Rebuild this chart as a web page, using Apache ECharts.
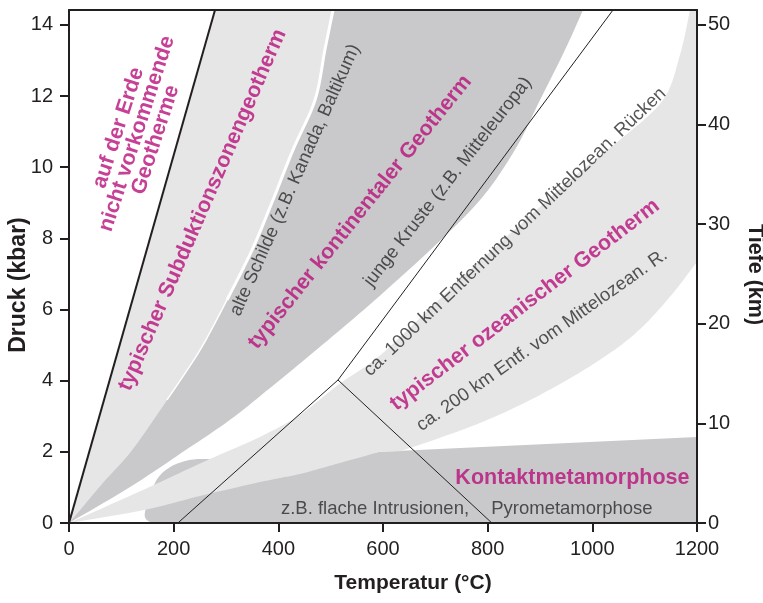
<!DOCTYPE html>
<html><head><meta charset="utf-8">
<script src="https://cdn.jsdelivr.net/npm/echarts@6/dist/echarts.min.js"></script>
<style>html,body{margin:0;padding:0;background:#fff}#c{width:763px;height:603px}</style>
</head><body><div id="c"></div>
<script>
// ---------- axes ----------
const P_MAX = 14.42;      // kbar at the top frame
const DEPTH_MAX = 51.5;   // km at the top frame
const tempTicks = [0, 200, 400, 600, 800, 1000, 1200];
const pressureTicks = [0, 2, 4, 6, 8, 10, 12, 14];
const depthTicks = [0, 10, 20, 30, 40, 50];

// ---------- boundaries [T (°C), P (kbar)] ----------
const limitLine = [[0, 0], [279, 14.42]];
const subductionEdge = [[0, 0], [66, 1.15], [120.4, 2.05], [187.3, 3.46], [250.3, 4.86], [301.9, 6.27],
  [349.7, 7.67], [389.8, 9.08], [428, 10.49], [470.1, 11.89], [489, 13.3], [504.5, 14.42]];
const continentalEdge = [[0, 0], [116.6, 1.01], [217.8, 2.0], [307.6, 2.9], [393.6, 3.91], [483.5, 5.0],
  [584.7, 6.27], [689.8, 7.67], [785.4, 9.08], [852.2, 10.49], [900, 11.89], [947.8, 13.3], [982.2, 14.42]];
const oceanUpperEdge = [[0, 0], [141.4, 0.93], [269.4, 1.8], [365, 2.42], [441.4, 3.04], [514, 3.88],
  [588.5, 4.64], [670.7, 5.76], [766.2, 7.11], [861.8, 8.38], [957.3, 9.64], [1052.9, 10.77],
  [1135, 11.89], [1167.5, 13.16], [1186.6, 14.42]];
const oceanLowerEdge = [[632.5, 2.02], [700, 2.35], [800, 2.9], [900, 3.6], [1000, 4.45],
  [1080, 5.3], [1145, 6.3], [1200, 7.34]];
const shallowLowerEdge = [[0, 0], [145.2, 0.37], [250.3, 0.76], [365, 1.15], [441.4, 1.38], [517.8, 1.69], [594.3, 2.0]];
const contactBump = [[158.6, 0], [147.1, 0.11], [145.2, 0.31], [154.8, 0.79], [170.1, 1.27], [193, 1.57],
  [221.7, 1.74], [250.3, 1.8], [279, 1.77], [307.6, 1.66], [441.4, 1.71]];
const contactTop = [[594.3, 2.0], [1200, 2.42], [1200, 0]];
const ridgeLowerLine = [[208, 0], [514, 4.02], [808, 0]];
const ridgeUpperLine = [[514, 4.02], [1039.5, 14.42]];

// ---------- labels ----------
const labelTexts = ['auf der Erde\nnicht vorkommende\nGeotherme', 'typischer Subduktionszonengeotherm',
  'alte Schilde (z.B. Kanada, Baltikum)', 'typischer kontinentaler Geotherm',
  'junge Kruste (z.B. Mitteleuropa)', 'ca. 1000 km Entfernung vom Mittelozean. Rücken',
  'typischer ozeanischer Geotherm', 'ca. 200 km Entf. vom Mittelozean. R.',
  'Kontaktmetamorphose', 'z.B. flache Intrusionen,', 'Pyrometamorphose'];
const labelPos = [[130, 10.94], [255.1, 8.8], [431.9, 9.64], [556, 8.74], [724, 9.59], [852, 8.18],
  [871, 6.13], [904, 5.14], [962, 1.27], [584.7, 0.39], [961, 0.39]];
const labelAngles = [72, 66.5, 66, 51.3, 52, 43.6, 37.5, 35.2, 0, 0, 0];
const labelKinds = ['em', 'em', 'note', 'em', 'note', 'note', 'em', 'note', 'em', 'note', 'note'];

// ---------- styles ----------
const FONT = '"Liberation Sans", Arial, Helvetica, sans-serif';
const LIGHT = '#e6e6e7', DARK = '#c9c9cb', INK = '#231f20', MAGENTA = '#b8107a';

function catmull(pts, n) {
  n = n || 10;
  if (pts.length < 3) return pts.slice();
  const out = [];
  for (let i = 0; i < pts.length - 1; i++) {
    const p0 = pts[i - 1] || pts[i], p1 = pts[i], p2 = pts[i + 1], p3 = pts[i + 2] || pts[i + 1];
    for (let k = 0; k < n; k++) {
      const t = k / n, t2 = t * t, t3 = t2 * t;
      out.push([0, 1].map(d => 0.5 * ((2 * p1[d]) + (-p0[d] + p2[d]) * t +
        (2 * p0[d] - 5 * p1[d] + 4 * p2[d] - p3[d]) * t2 + (-p0[d] + 3 * p1[d] - 3 * p2[d] + p3[d]) * t3)));
    }
  }
  out.push(pts[pts.length - 1]);
  return out;
}
function build(api, pieces) {
  let pts = [];
  pieces.forEach(pc => {
    let px = pc.pts.map(p => api.coord(p));
    if (pc.smooth) px = catmull(px);
    pts = pts.concat(px);
  });
  return pts;
}
function areaSeries(pieces, fill) {
  return { type: 'custom', silent: true, data: [[0, 0]], clip: true,
    renderItem: (params, api) => ({ type: 'polygon', shape: { points: build(api, pieces) }, style: { fill: fill } }) };
}
function lineSeries(pieces, stroke, width) {
  return { type: 'custom', silent: true, data: [[0, 0]], clip: true,
    renderItem: (params, api) => ({ type: 'polyline', shape: { points: build(api, pieces) },
      style: { stroke: stroke, lineWidth: width, fill: null } }) };
}
const rev = a => a.slice().reverse();

const series = [
  areaSeries([{ pts: limitLine }, { pts: rev(subductionEdge), smooth: true }], LIGHT),
  areaSeries([{ pts: subductionEdge, smooth: true }, { pts: rev(continentalEdge), smooth: true }], DARK),
  areaSeries([{ pts: contactBump, smooth: true }, { pts: contactTop }], DARK),
  areaSeries([{ pts: oceanUpperEdge, smooth: true }, { pts: [[1200, P_MAX]] },
    { pts: rev(oceanLowerEdge), smooth: true }, { pts: rev(shallowLowerEdge), smooth: true }], LIGHT),
  lineSeries([{ pts: subductionEdge.filter(p => p[1] >= 5.5), smooth: true }], '#ffffff', 3),
  lineSeries([{ pts: subductionEdge.filter(p => p[1] >= 3.4 && p[1] <= 6.3), smooth: true }], '#ffffff', 1.5),
  lineSeries([{ pts: limitLine }], INK, 2),
  lineSeries([{ pts: ridgeLowerLine }], INK, 1),
  lineSeries([{ pts: ridgeUpperLine }], INK, 1),
  { type: 'scatter', silent: true, symbolSize: 1, itemStyle: { color: 'transparent' }, z: 5,
    data: labelTexts.map((t, i) => ({
      value: labelPos[i],
      label: {
        show: true, position: 'inside', formatter: t, rotate: labelAngles[i],
        align: 'center', verticalAlign: 'middle', fontFamily: FONT,
        fontSize: labelKinds[i] === 'em' ? 21.5 : 18.5,
        fontWeight: labelKinds[i] === 'em' ? 'bold' : 'normal',
        color: labelKinds[i] === 'em' ? MAGENTA : '#2b2b2b',
        lineHeight: 19.5
      }
    })) }
];

const plain = v => String(v);
const tick = vals => ({ show: true, inside: false, length: 9, customValues: vals,
  lineStyle: { color: INK, width: 2 } });
const axLine = () => ({ show: true, onZero: false, lineStyle: { color: INK, width: 2 } });
const nameStyle = extra => Object.assign({ fontFamily: FONT, fontSize: 21, fontWeight: 'bold', color: INK }, extra || {});
const lab = (vals, margin) => ({ fontFamily: FONT, fontSize: 20, color: INK, margin: margin,
  formatter: plain, customValues: vals });

const chart = echarts.init(document.getElementById('c'), null, { renderer: 'canvas' });
chart.setOption({
  animation: false,
  backgroundColor: '#ffffff',
  grid: { left: 69, right: 66, top: 10, bottom: 80, containLabel: false, outerBoundsMode: 'none' },
  xAxis: [
    { type: 'value', min: 0, max: 1200, interval: 200, position: 'bottom', z: 10,
      axisLine: axLine(), axisTick: tick(tempTicks), splitLine: { show: false },
      name: 'Temperatur (°C)', nameLocation: 'middle', nameGap: 50, nameMoveOverlap: false,
      nameTextStyle: nameStyle({ padding: [0, 0, 0, 60] }),
      axisLabel: lab(tempTicks, 16) },
    { type: 'value', min: 0, max: 1200, position: 'top', z: 10,
      axisLine: axLine(), axisTick: { show: false }, axisLabel: { show: false }, splitLine: { show: false } }
  ],
  yAxis: [
    { type: 'value', min: 0, max: P_MAX, interval: 2, position: 'left', z: 10,
      axisLine: axLine(), axisTick: tick(pressureTicks), splitLine: { show: false },
      name: 'Druck (kbar)', nameLocation: 'middle', nameGap: 39, nameRotate: 90, nameMoveOverlap: false,
      nameTextStyle: nameStyle({ fontSize: 23, padding: [0, 37, 0, 0] }),
      axisLabel: lab(pressureTicks, 16) },
    { type: 'value', min: 0, max: DEPTH_MAX, interval: 10, position: 'right', z: 10,
      axisLine: axLine(), axisTick: tick(depthTicks), splitLine: { show: false },
      name: 'Tiefe (km)', nameLocation: 'middle', nameGap: 47, nameRotate: -90, nameMoveOverlap: false,
      nameTextStyle: nameStyle({ fontSize: 21.5, padding: [0, 0, 0, 16] }),
      axisLabel: lab(depthTicks, 11) }
  ],
  series: series
});
</script></body></html>
